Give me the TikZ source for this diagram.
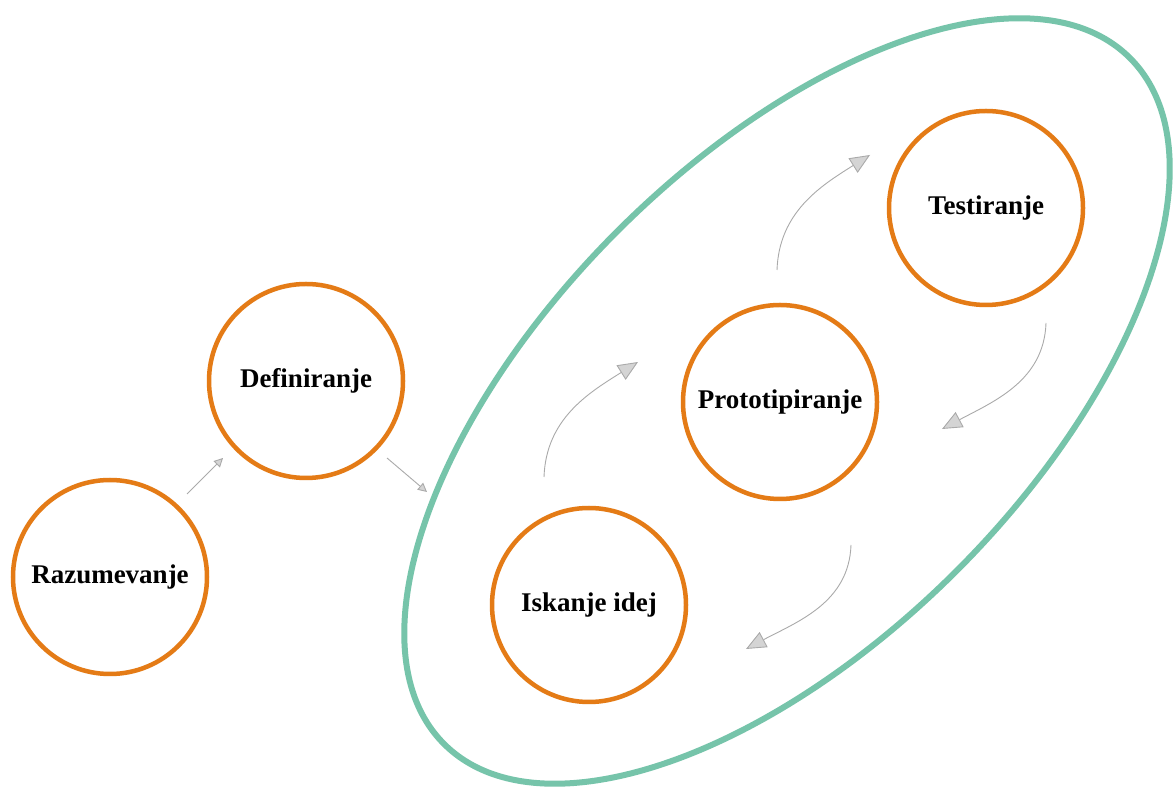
\documentclass[tikz,border=0pt]{standalone}
\usepackage{fontspec}
\setmainfont{Liberation Serif}
\usetikzlibrary{arrows.meta}
\definecolor{stageorange}{RGB}{228,123,22}
\definecolor{loopteal}{RGB}{118,196,170}
\definecolor{arrowgray}{RGB}{170,170,170}
\definecolor{headfill}{RGB}{212,212,212}
\tikzset{
  stage/.style={circle, draw=stageorange, line width=4.5pt, minimum size=194pt,
    inner sep=0pt, font=\fontsize{27}{32}\selectfont\bfseries, text=black},
  smallarrow/.style={draw=arrowgray, line width=0.9pt,
    -{Triangle[open, length=9pt, width=9pt, fill=headfill]}},
  looparrow/.style={draw=arrowgray, line width=0.9pt,
    -{Triangle[length=20pt, width=17pt, fill=headfill]}},
}
\begin{document}
\begin{tikzpicture}[x=1pt,y=1pt]
  \useasboundingbox (0,0) rectangle (1174,789);
  \fill[white] (0,0) rectangle (1174,789);

  % iteration loop enclosure
  \draw[loopteal, line width=6pt, rotate around={45:(787,388)}]
    (787,388) ellipse [x radius=485, y radius=240];

  % stages
  \node[stage] (raz)   at (110,212) {Razumevanje};
  \node[stage] (def)   at (306,408) {Definiranje};
  \node[stage] (proto) at (780,387) {Prototipiranje};
  \node[stage] (test)  at (986,581) {Testiranje};
  \node[stage] (isk)   at (589,184) {Iskanje idej};

  % connector end points
  \coordinate (r1) at (187,295);  \coordinate (r2) at (223,331);
  \coordinate (d1) at (387,331);  \coordinate (d2) at (427,297);
  \coordinate (i1) at (544,312);  \coordinate (i2) at (638,427);
  \coordinate (p1) at (777,519);  \coordinate (p2) at (870,634);
  \coordinate (t1) at (1046,466); \coordinate (t2) at (942,360);
  \coordinate (q1) at (851,244);  \coordinate (q2) at (746,140);

  \draw[smallarrow] (r1) -- (r2);
  \draw[smallarrow] (d1) -- (d2);
  \draw[looparrow] (i1) to[out=88, in=212] (i2);
  \draw[looparrow] (p1) to[out=88, in=212] (p2);
  \draw[looparrow] (t1) to[out=-92, in=28] (t2);
  \draw[looparrow] (q1) to[out=-92, in=28] (q2);
\end{tikzpicture}
\end{document}
